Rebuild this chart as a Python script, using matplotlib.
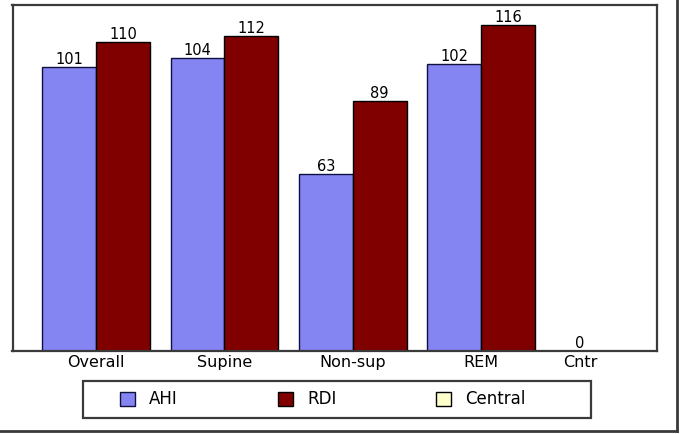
import numpy as np
import matplotlib
matplotlib.use('Agg')
from matplotlib import pyplot as plt
from matplotlib.patches import Rectangle, Patch
from matplotlib.lines import Line2D

categories = ['Overall', 'Supine', 'Non-sup', 'REM', 'Cntr']
ahi = [101, 104, 63, 102]
rdi = [110, 112, 89, 116]
central = [0]
series = ['AHI', 'RDI', 'Central']

AHI_C = '#8484f2'
RDI_C = '#800000'
CEN_C = '#ffffcc'
FRAME = '#3a3a3a'

plt.rcParams['font.family'] = 'DejaVu Sans'
plt.rcParams['font.size'] = 10

W, H = 684, 434
fig = plt.figure(figsize=(W/100, H/100), dpi=100)
ax = fig.add_axes([12.5/W, (H-350.5)/H, 644.5/W, 345.5/H])

bw = 0.42
x = np.arange(len(ahi))
cntr_x = 3.77  # Cntr group sits a bit left of the regular spacing

b1 = ax.bar(x - bw/2, ahi, bw, color=AHI_C, edgecolor='#101040', linewidth=1)
b2 = ax.bar(x + bw/2, rdi, bw, color=RDI_C, edgecolor='#000000', linewidth=1)
b3 = ax.bar([cntr_x], central, bw, color=CEN_C, edgecolor='#000000', linewidth=1)

for bars in (b1, b2, b3):
	for b in bars:
		h = b.get_height()
		ax.annotate('%d' % h, (b.get_x() + b.get_width()/2, h), xytext=(0, 0),
			textcoords='offset points', ha='center', va='bottom', fontsize=10.5)

ax.set_xlim(-0.651, 4.37)
ax.set_ylim(0, 123)
ax.set_xticks(list(x) + [cntr_x])
ax.set_xticklabels(categories, fontsize=11.5)
ax.set_yticks([])
ax.tick_params(axis='x', length=0, pad=3)
for s in ax.spines.values():
	s.set_color(FRAME)
	s.set_linewidth(1.6)

# legend box
fig.patches.append(Rectangle((83/W, (H-418)/H), 508/W, 37/H, transform=fig.transFigure,
	fill=False, edgecolor=FRAME, linewidth=1.6))
handles = [Patch(facecolor=AHI_C, edgecolor='#101040'),
	Patch(facecolor=RDI_C, edgecolor='#000000'),
	Patch(facecolor=CEN_C, edgecolor='#000000')]
fig.legend(handles, series, ncol=3, frameon=False, loc='center left',
	bbox_to_anchor=(120/W, (H-399.5)/H), borderpad=0, borderaxespad=0,
	handlelength=0.9, handleheight=0.95, handletextpad=0.85, columnspacing=6.0,
	fontsize=12)

# outer frame: only right and bottom edges
fig.lines.append(Line2D([677/W, 677/W], [1, (H-431)/H], transform=fig.transFigure,
	color=FRAME, linewidth=2))
fig.lines.append(Line2D([0, 677/W], [(H-431)/H, (H-431)/H], transform=fig.transFigure,
	color=FRAME, linewidth=2))

fig.savefig('out.png', dpi=100)
